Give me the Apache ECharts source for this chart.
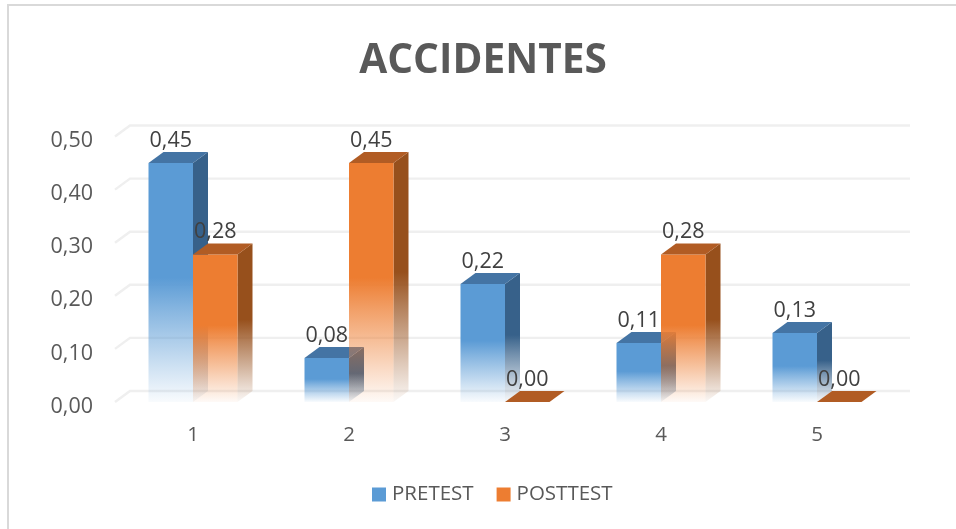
<!DOCTYPE html>
<html><head><meta charset="utf-8">
<style>html,body{margin:0;padding:0;background:#fff}#c{width:956px;height:529px}</style>
<script src="https://cdn.jsdelivr.net/npm/echarts@6/dist/echarts.min.js"></script>
</head><body><div id="c"></div>
<script>
const categories = ['1','2','3','4','5'];
const pretest = [0.45,0.083,0.222,0.111,0.13];
const posttest = [0.278,0.45,0,0.278,0];
const yTicks = [0,0.1,0.2,0.3,0.4,0.5];
const FONT = '"Open Sans","Noto Sans",sans-serif';
const DX = 15, DY = -11;
const fmt = v => v.toFixed(2).replace('.',',');
const hexA = (c,a)=>{const n=parseInt(c.slice(1),16);return `rgba(${n>>16},${n>>8&255},${n&255},${a})`;};
const fade = (c)=>({type:'linear',x:0,y:0,x2:0,y2:1,colorStops:[
  {offset:0,color:c},{offset:0.48,color:c},{offset:0.62,color:hexA(c,0.72)},{offset:0.85,color:hexA(c,0.3)},{offset:1,color:hexA(c,0.04)}]});
function bar3d(seriesIndex, front, side, top){
  return function(params, api){
    const i = api.value(0), v = api.value(1);
    const w = 44.5;
    const c = api.coord([i,0]);
    const y0 = c[1], y1 = api.coord([i,v])[1];
    const x0 = c[0] + (seriesIndex===0 ? -w : 0), x1 = x0 + w;
    const kids = [];
    if (v > 0){
      kids.push({type:'polygon',shape:{points:[[x1,y1],[x1+DX,y1+DY],[x1+DX,y0+DY],[x1,y0]]},style:{fill:fade(side)}});
      kids.push({type:'rect',shape:{x:x0,y:y1,width:w,height:y0-y1},style:{fill:fade(front)}});
    }
    kids.push({type:'polygon',shape:{points:[[x0,y1],[x0+DX,y1+DY],[x1+DX,y1+DY],[x1,y1]]},style:{fill:top}});
    kids.push({type:'text',z2:100,style:{text:fmt(v),x:(x0+x1)/2,y:y1-22.5,align:'center',verticalAlign:'middle',font:'21.5px '+FONT,fill:'#404040'}});
    return {type:'group',children:kids};
  };
}
const wallSeries = {
  type:'custom',silent:true,coordinateSystem:'cartesian2d',z:1,legendHoverLink:false,tooltip:{show:false},
  data:yTicks.map(t=>[0,t]),encode:{x:0,y:1},
  renderItem(params, api){
    const t = api.value(1);
    const band = api.size([1,0])[0];
    const p = api.coord([0,t]);
    const q = api.coord([categories.length-1,t]);
    const xl = p[0]-band/2, xr = q[0]+band/2;
    return {type:'polyline',shape:{points:[[xl,p[1]],[xl+DX,p[1]+DY],[xr+DX,q[1]+DY]]},
      style:{stroke:'#EFEFEF',lineWidth:2.4,fill:null}};
  }
};
const chart = echarts.init(document.getElementById('c'),null,{renderer:'canvas'});
chart.setOption({
  animation:false,
  backgroundColor:'#fff',
  title:{text:'ACCIDENTES',left:478,top:36,textAlign:'center',textStyle:{fontFamily:FONT,fontSize:40.6,fontWeight:'bold',color:'#595959'}},
  grid:{left:115,top:136.5,width:780,height:265.5},
  xAxis:{type:'category',data:categories,axisLine:{show:false},axisTick:{show:false},
    axisLabel:{fontFamily:FONT,fontSize:20.5,color:'#595959',margin:23}},
  yAxis:{type:'value',min:0,max:0.5,interval:0.1,axisLine:{show:false},axisTick:{show:false},splitLine:{show:false},
    axisLabel:{fontFamily:FONT,fontSize:21.5,color:'#595959',margin:22,verticalAlign:'top',lineHeight:9,formatter:fmt}},
  legend:{left:367,top:479,itemWidth:14,itemHeight:14,itemGap:23,icon:'rect',selectedMode:false,
    textStyle:{fontFamily:FONT,fontSize:20.5,color:'#595959',padding:[0,0,0,1]},data:['PRETEST','POSTTEST']},
  graphic:[{type:'polyline',silent:true,z:-1,shape:{points:[[8,529],[8,5],[956,5]]},style:{fill:null,stroke:'#D9D9D9',lineWidth:2}}],
  series:[wallSeries,
   {name:'PRETEST',type:'custom',coordinateSystem:'cartesian2d',itemStyle:{color:'#5B9BD5'},z:2,
    data:pretest.map((v,i)=>[i,v]),encode:{x:0,y:1},renderItem:bar3d(0,'#5B9BD5','#37618A','#4474A4')},
   {name:'POSTTEST',type:'custom',coordinateSystem:'cartesian2d',itemStyle:{color:'#ED7D31'},z:2,
    data:posttest.map((v,i)=>[i,v]),encode:{x:0,y:1},renderItem:bar3d(1,'#ED7D31','#97501C','#B15C24')}
  ]
});
</script></body></html>
